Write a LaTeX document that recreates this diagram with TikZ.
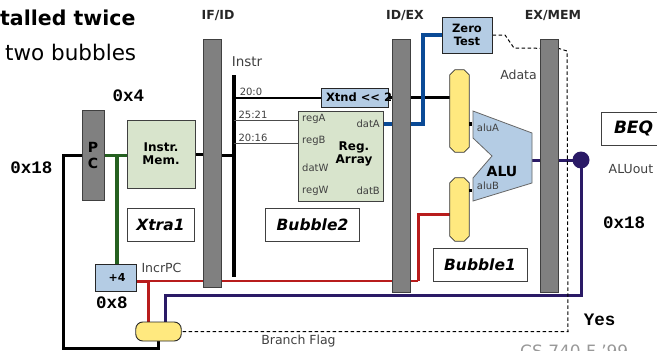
\documentclass[tikz,border=0pt]{standalone}
\usepackage{fontspec}
\setmainfont{DejaVu Sans}
\newfontfamily\codefont{Liberation Mono}
\usetikzlibrary{backgrounds}
\newcommand{\fsz}[1]{\fontsize{#1}{#1}\selectfont}
% octagon outline round a named mux node
\newcommand{\muxbody}[1]{\draw[muxface] ([xshift=5pt]#1.north west) -- ([xshift=-5pt]#1.north east)
  -- ([yshift=-5pt]#1.north east) -- ([yshift=5pt]#1.south east) -- ([xshift=-5pt]#1.south east)
  -- ([xshift=5pt]#1.south west) -- ([yshift=5pt]#1.south west) -- ([yshift=-5pt]#1.north west) -- cycle;}
\definecolor{latchgray}{HTML}{808080}
\definecolor{memgreen}{HTML}{D8E4CC}
\definecolor{unitblue}{HTML}{B4CCE4}
\definecolor{muxyellow}{HTML}{FFE97F}
\definecolor{wiregreen}{HTML}{256020}
\definecolor{wireblue}{HTML}{0A4A96}
\definecolor{wirered}{HTML}{B81C1C}
\definecolor{wirepurple}{HTML}{2A1A66}

\begin{document}
\begin{tikzpicture}[
  x=1pt,y=-1pt,
  latch/.style={draw=black!75,fill=latchgray,line width=1pt,inner sep=0pt,minimum width=18pt},
  memblock/.style={draw=black!75,fill=memgreen,line width=0.9pt,inner sep=0pt,font=\fsz{12}\bfseries,align=center},
  unit/.style={draw=black!85,fill=unitblue,line width=1pt,inner sep=0pt,font=\fsz{11.5}\bfseries,align=center},
  mux/.style={inner sep=0pt,minimum width=19pt},
  muxface/.style={draw=black!80,fill=muxyellow,line width=0.8pt,line join=round},
  note/.style={draw=black!75,fill=white,line width=0.9pt,inner sep=0pt,font=\fsz{15.5}\bfseries\itshape},
  val/.style={inner sep=0pt,font=\fsz{17.5}\codefont\bfseries},
  stage/.style={inner sep=0pt,font=\fsz{12.5}\bfseries,text=black!85},
  tag/.style={inner sep=0pt,font=\fsz{12.5},text=black!75},
  port/.style={inner sep=0pt,font=\fsz{10},text=black!75},
  stub/.style={fill=black,inner sep=0pt,minimum size=3.5pt},
  blackwire/.style={draw=black,line width=3pt},
  busline/.style={draw=black,line width=4pt},
  thinwire/.style={draw=black!70,line width=1pt},
  greenwire/.style={draw=wiregreen,line width=3.2pt},
  bluewire/.style={draw=wireblue,line width=3.5pt},
  redthick/.style={draw=wirered,line width=3pt},
  redthin/.style={draw=wirered,line width=1.8pt},
  purplewire/.style={draw=wirepurple,line width=3pt},
  ctlwire/.style={draw=black,line width=1pt,dash pattern=on 3.5pt off 2.5pt}]

\clip (0,0) rectangle (657,351);

% --- title and footer, cut by the page edge ---
\node[inner sep=0pt,anchor=west,font=\fsz{20.5}\bfseries] (title) at (0,18) {talled twice};
\node[inner sep=0pt,anchor=west,font=\fsz{21.5}] (subtitle) at (5,52) {two bubbles};
\node[inner sep=0pt,anchor=west,font=\fsz{17},text=black!40] (footer) at (520,351.5) {CS 740 F '99};

% --- pipeline latches ---
\node[stage] (ifidname) at (218,16) {IF/ID};
\node[stage] (idexname) at (405,16) {ID/EX};
\node[stage] (exmemname) at (553,16) {EX/MEM};

% --- fetch ---
\node[latch,minimum width=22pt,minimum height=90pt,font=\fsz{14}\bfseries,align=center] (pc) at (93,155.5) {P\\[2pt]C};
\node[memblock,minimum width=68pt,minimum height=68pt] (imem) at (161,154) {Instr.\\[1pt]Mem.};
\node[unit,minimum width=41pt,minimum height=27pt,font=\fsz{11}\bfseries] (incr) at (115.5,277.5) {\hspace{3pt}+4};
\node[draw=black!85,fill=muxyellow,line width=0.9pt,rounded corners=7pt,inner sep=0pt,minimum width=45.5pt,minimum height=19pt] (brmux) at (158.5,331.5) {};

% --- decode ---
\node[unit,minimum width=67pt,minimum height=19pt] (xtnd) at (354.5,97.5) {\makebox[65pt][l]{\hspace{4pt}Xtnd {<}{<} 2}};
\node[memblock,minimum width=85pt,minimum height=90pt] (regs) at (340.5,156) {};
\node[inner sep=0pt,font=\fsz{12}\bfseries,align=center] (regsname) at (354,153.5) {Reg.\\[1pt]Array};
\node[port,anchor=west] (rega) at (302,119) {regA};
\node[port,anchor=west] (regb) at (302,141) {regB};
\node[port,anchor=west] (datw) at (302,168) {datW};
\node[port,anchor=west] (regw) at (302,191) {regW};
\node[port,anchor=east] (data) at (380,124) {datA};
\node[port,anchor=east] (datb) at (380,191) {datB};
\node[unit,minimum width=50pt,minimum height=36pt] (ztest) at (467,35) {Zero\\[1pt]Test};

% --- latches after the units, they cover the last digit ---
\node[latch,minimum height=248pt] (ifid) at (212.5,163) {};
\node[latch,minimum height=253pt] (idex) at (401,165.5) {};
\node[latch,minimum height=253pt] (exmem) at (549.5,165.5) {};

% --- execute ---
\node[mux,minimum height=82pt] (muxa) at (459.5,111) {};
\node[mux,minimum height=63pt] (muxb) at (459.5,209.5) {};
\muxbody{muxa}
\muxbody{muxb}
\node[stub] (stuba) at (470.5,124) {};
\node[stub] (stubb) at (470.5,190.5) {};
\draw[draw=black!60,fill=unitblue,line width=0.8pt] (473,111) -- (532,133) -- (532,183) -- (473,201)
  -- (473,178) -- (492,156) -- (473,138) -- cycle;
\node[inner sep=0pt,font=\fsz{14}\bfseries] (alu) at (502,171) {ALU};
\node[port] (alua) at (488,128) {aluA};
\node[port] (alub) at (488,186) {aluB};
\coordinate (aluout) at (532,160);
\node[circle,fill=wirepurple,inner sep=0pt,minimum size=17pt] (dot) at (581,160) {};

% --- notes and values ---
\node[note,minimum width=67pt,minimum height=33pt] (xtra) at (160.5,224.5) {Xtra1};
\node[note,minimum width=93.5pt,minimum height=33pt] (bubtwo) at (312.5,224.5) {Bubble2};
\node[note,minimum width=94pt,minimum height=33pt] (bubone) at (480,264.5) {Bubble1};
\node[note,minimum width=70pt,minimum height=33pt,text width=66pt,align=left,font=\fsz{17}\bfseries\itshape] (beq) at (636,128.5) {\hspace{11pt}BEQ};
\node[val] (valfour) at (128.5,96) {0x4};
\node[val] (valpc) at (31.5,168) {0x18};
\node[val] (valeight) at (112,303) {0x8};
\node[val] (valout) at (624,223) {0x18};
\node[val] (valyes) at (599.5,320) {Yes};
\node[tag,font=\fsz{13.5}] (instr) at (247,62) {Instr};
\node[tag] (incrpc) at (161.5,268) {IncrPC};
\node[tag] (adata) at (518.5,75) {Adata};
\node[tag] (aluoutname) at (631,169) {ALUout};
\node[tag] (brflag) at (298.5,341) {Branch Flag};
\node[port] (lowzero) at (251,92) {20:0};
\node[port] (lowrega) at (253,115) {25:21};
\node[port] (lowregb) at (253,138) {20:16};

% --- wires go under everything ---
\begin{scope}[on background layer]
\coordinate (pcback) at (63,348);
\coordinate (greenjoin) at (117,155.5);
\coordinate (bustop) at (234,75);
\coordinate (busbot) at (234,277);
\coordinate (busin) at (234,155);
\coordinate (redjoin) at (148,281);
\coordinate (redbend) at (418,281);
\coordinate (redin) at (450,214);
\coordinate (bluebend) at (423,124);
\coordinate (purplejoin) at (165,295);

\draw[blackwire] (pc.west) -| (pcback) -| (brmux.south);
\draw[greenwire] (pc.east) -- (imem.west |- pc.east);
\draw[greenwire] (greenjoin) -- (greenjoin |- incr.north);
\draw[blackwire] (imem.east) -- (ifid.west |- imem.east);
\draw[blackwire] (ifid.east |- busin) -- (busin);
\draw[busline] (bustop) -- (busbot);
\draw[blackwire,line width=2pt] (bustop |- xtnd.west) -- (xtnd.west);
\draw[thinwire] (234,120) -- (regs.west |- 234,120);
\draw[thinwire] (234,143) -- (regs.west |- 234,143);
\draw[blackwire] (xtnd.east) -- (muxa.west |- xtnd.east);

\draw[bluewire] (regs.east |- bluebend) -- (bluebend) |- (ztest.west);

\draw[redthick] (redjoin -| incr.east) -- (redjoin) -- (redjoin |- brmux.north);
\draw[redthin] (redjoin) -- (redbend);
\draw[redthick] (redbend) |- (redin);

\draw[purplewire] (aluout) -- (dot.center);
\draw[purplewire] (dot.center) |- (purplejoin) -- (purplejoin |- brmux.north);

\draw[ctlwire] (ztest.east) -- (505,35) -- (514,48) -- (559,48.5) -- (567,51) -- (568,331.5) -- (brmux.east);
\end{scope}

\end{tikzpicture}
\end{document}
